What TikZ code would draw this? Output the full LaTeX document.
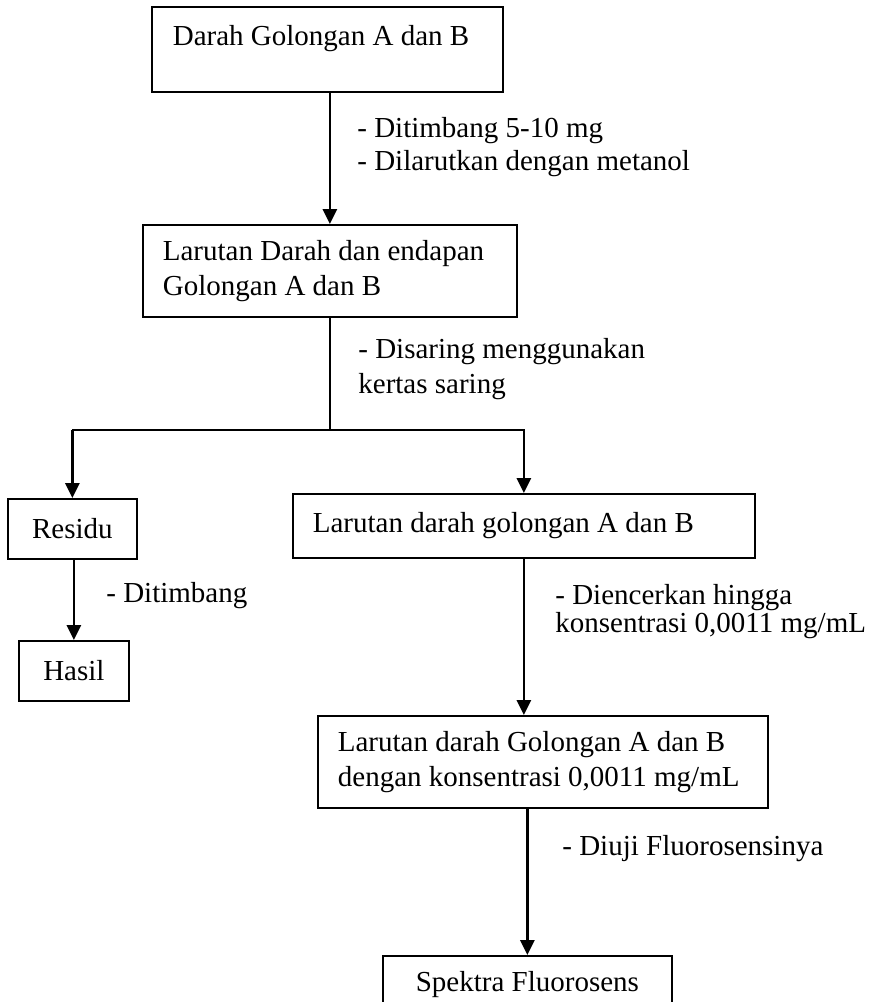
\documentclass[tikz,border=0pt]{standalone}
\usepackage{fontspec}
\setmainfont{Liberation Serif}
\usetikzlibrary{arrows.meta}
\tikzset{
  box/.style={draw,line width=0.9pt,anchor=north west,inner sep=0pt},
  lbox/.style={box,align=flush left,inner xsep=10pt,inner ysep=0pt},
  cbox/.style={box,align=center},
  lbl/.style={anchor=base west,inner sep=0pt},
  arr/.style={line width=1.4pt,-{Triangle[length=7.5pt,width=7pt]}},
  ln/.style={line width=0.9pt}
}
\begin{document}
\begin{tikzpicture}[x=0.5pt,y=-0.5pt,every node/.style={font=\fontsize{14.5}{17.5}\selectfont}]
\clip (0,0) rectangle (879,1002);
% boxes
\node[lbox,inner xsep=10.5pt,text width=154.5pt,text height=19.5pt,text depth=23pt] (b1) at (151,6) {Darah Golongan A dan B};
\node[lbox,text width=167pt,minimum height=46pt] (b2) at (142,224) {Larutan Darah dan endapan\\Golongan A dan B};
\node[cbox,minimum width=64.5pt,minimum height=30pt] (res) at (7,498) {Residu};
\node[cbox,minimum width=55pt,minimum height=30pt] (hasil) at (18,640) {Hasil};
\node[lbox,text width=211pt,minimum height=32pt] (lar) at (292,493) {Larutan darah golongan A dan B};
\node[lbox,text width=205pt,minimum height=46pt] (b4) at (317,715) {Larutan darah Golongan A dan B\\dengan konsentrasi 0,0011 mg/mL};
\node[cbox,minimum width=144.5pt,minimum height=28.5pt] (b5) at (382,955) {Spektra Fluorosens};
% labels
\node[lbl] (t1) at (357,137) {- Ditimbang 5-10 mg};
\node[lbl] (t2) at (357,170) {- Dilarutkan dengan metanol};
\node[lbl] (t3) at (358,358) {- Disaring menggunakan};
\node[lbl] (t4) at (358,393) {kertas saring};
\node[lbl] (t5) at (106,602) {- Ditimbang};
\node[lbl] (t6) at (555,604) {- Diencerkan hingga};
\node[lbl] (t7) at (555,632) {konsentrasi 0,0011 mg/mL};
\node[lbl] (t8) at (562,855) {- Diuji Fluorosensinya};
% connectors
\coordinate (split) at (329,430);
\coordinate (splitL) at (res.north |- split);
\coordinate (splitR) at (lar.north |- split);
\draw[arr] (b1.south -| b2.north) -- (b2.north);
\draw[ln] (b2.south) -- (b2.south |- split);
\draw[ln,line cap=rect] (splitL) -- (splitR);
\draw[arr] (splitL) -- (res.north);
\draw[arr] (splitR) -- (lar.north);
\draw[arr] (res.south -| hasil.north) -- (hasil.north);
\draw[arr] (lar.south) -- (lar.south |- b4.north);
\draw[arr] (b5.north |- b4.south) -- (b5.north);
\end{tikzpicture}
\end{document}
